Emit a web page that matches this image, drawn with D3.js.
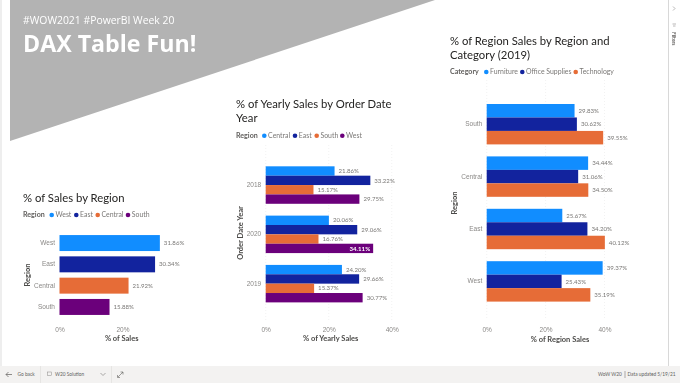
<!DOCTYPE html>
<html>
<head>
<meta charset="utf-8">
<script src="https://cdn.jsdelivr.net/npm/d3@7"></script>
<style>
  html, body { margin: 0; padding: 0; background: #fff; overflow: hidden; }
  svg { display: block; font-family: Lato, "Open Sans", sans-serif; filter: blur(0.3px); }
  .title { fill: #252423; font-size: 11.3px; }
  .legend-title { fill: #605e5c; font-size: 7.1px; font-weight: 700; }
  .legend-label { fill: #7a7876; font-size: 6.9px; }
  .axis-title { fill: #4b4a48; font-size: 7.5px; font-weight: 700; }
  .tick-label { fill: #8a8886; font-size: 6.5px; }
  .data-label { fill: #7a7876; font-size: 6.1px; }
  .chrome-text { fill: #605e5c; font-size: 4.8px; }
</style>
</head>
<body>
<script>
// colours used by all three visuals
const palette = ["#118DFF", "#12239E", "#E66C37", "#6B007B"];

// % of Sales by Region
const salesRegions = ["West", "East", "Central", "South"];
const salesValues = [31.86, 30.34, 21.92, 15.88];

// % of Yearly Sales by Order Date Year
const years = ["2018", "2020", "2019"];
const yearRegions = ["Central", "East", "South", "West"];
const yearValues = [
  [21.86, 33.22, 15.17, 29.75],
  [20.06, 29.06, 16.76, 34.11],
  [24.20, 29.66, 15.37, 30.77]
];

// % of Region Sales by Region and Category (2019)
const catRegions = ["South", "Central", "East", "West"];
const categories = ["Furniture", "Office Supplies", "Technology"];
const catValues = [
  [29.83, 30.62, 39.55],
  [34.44, 31.06, 34.50],
  [25.67, 34.20, 40.12],
  [39.37, 25.43, 35.19]
];

const xTicks = [0, 20, 40];

const width = 680, height = 383;
const svg = d3.select("body").append("svg")
  .attr("width", width)
  .attr("height", height);

// page background and banner
svg.append("rect").attr("width", 2).attr("height", 366).attr("fill", "#eeeeee");
svg.append("path")
  .attr("d", d3.line()([[10, 0], [435, 0], [10, 141]]))
  .attr("fill", "#b3b3b3");
svg.append("text").attr("x", 23).attr("y", 23.5)
  .attr("fill", "#fff").style("font-size", "10.4px").style("font-family", "Open Sans")
  .text("#WOW2021 #PowerBI Week 20");
svg.append("text").attr("x", 23).attr("y", 52)
  .attr("fill", "#fff").style("font-size", "23.2px").style("font-weight", 700).style("font-family", "Open Sans")
  .text("DAX Table Fun!");

function legend(title, names, y, titleX, dotXs) {
  const g = svg.append("g");
  g.append("text").attr("class", "legend-title").attr("x", titleX).attr("y", y + 2.4).text(title);
  names.forEach((n, i) => {
    g.append("circle").attr("cx", dotXs[i]).attr("cy", y).attr("r", 2.3).attr("fill", palette[i]);
    g.append("text").attr("class", "legend-label").attr("x", dotXs[i] + 3.8).attr("y", y + 2.4).text(n);
  });
}

function titleLines(lines, x, y) {
  lines.forEach((t, i) => {
    svg.append("text").attr("class", "title").attr("x", x).attr("y", y + i * 14.4).text(t);
  });
}

// one clustered bar visual; rows is [group index, series index, value]
function barChart(o) {
  const x = d3.scaleLinear().domain([0, 40]).range([o.x0, o.x40]);
  const y = d3.scaleBand().domain(o.groups).range(o.yRange)
    .paddingInner(o.padding).paddingOuter(o.padding / 2);
  const inner = d3.scaleBand().domain(d3.range(o.seriesCount)).range([0, y.bandwidth()]);
  const g = svg.append("g");

  g.append("g").selectAll("line")
    .data(o.grid ? xTicks : [])
    .join("line")
    .attr("x1", d => x(d)).attr("x2", d => x(d))
    .attr("y1", o.gridTop).attr("y2", o.gridBottom)
    .attr("stroke", "#ececec").attr("stroke-width", 0.7)
    .attr("stroke-dasharray", "1,2");

  const xAxis = g.append("g")
    .attr("transform", `translate(0,${o.tickY})`)
    .call(d3.axisBottom(x).tickValues(o.ticks).tickSize(0).tickFormat(d => d + "%"));
  xAxis.select(".domain").remove();
  xAxis.selectAll("text").attr("class", "tick-label").attr("dy", "0.35em").attr("y", 0)
    .style("font-family", "inherit");

  const yAxis = g.append("g")
    .attr("transform", `translate(${o.x0 - 4.5},0)`)
    .call(d3.axisLeft(y).tickSize(0).tickPadding(0));
  yAxis.select(".domain").remove();
  yAxis.selectAll("text").attr("class", "tick-label").style("font-family", "inherit");

  g.selectAll("rect")
    .data(o.rows)
    .join("rect")
    .attr("x", x(0))
    .attr("y", d => y(o.groups[d[0]]) + inner(d[1]))
    .attr("width", d => x(d[2]) - x(0))
    .attr("height", inner.bandwidth())
    .attr("fill", d => palette[d[3] === undefined ? d[1] : d[3]]);

  g.selectAll("text.data-label")
    .data(o.rows)
    .join("text")
    .attr("class", "data-label")
    .attr("x", d => d[2] === o.insideValue ? x(d[2]) - 3 : x(d[2]) + 4)
    .attr("y", d => y(o.groups[d[0]]) + inner(d[1]) + inner.bandwidth() / 2)
    .attr("dy", "0.35em")
    .attr("text-anchor", d => d[2] === o.insideValue ? "end" : "start")
    .style("fill", d => d[2] === o.insideValue ? "#fff" : null)
    .style("font-weight", d => d[2] === o.insideValue ? 700 : null)
    .text(d => d[2].toFixed(2) + "%");

  g.append("text").attr("class", "axis-title")
    .attr("x", o.xTitleX).attr("y", o.xTitleY).attr("dy", "0.35em")
    .attr("text-anchor", "middle").text(o.xTitle);
  g.append("text").attr("class", "axis-title")
    .attr("transform", `translate(${o.yTitleX},${o.yTitleY}) rotate(-90)`)
    .attr("dy", "0.35em")
    .attr("text-anchor", "middle").text(o.yTitle);
}

titleLines(["% of Sales by Region"], 23, 202);
legend("Region", salesRegions, 215, 23, [51.7, 76.3, 97.7, 128]);
barChart({
  groups: salesRegions,
  seriesCount: 1,
  rows: salesValues.map((v, i) => [i, 0, v, i]),
  x0: 59.5, x40: 185.5, ticks: [0, 20],
  yRange: [232.4, 317.6], padding: 0.25,
  grid: false, tickY: 329.5,
  xTitle: "% of Sales", xTitleX: 121.7, xTitleY: 338.7,
  yTitle: "Region", yTitleX: 27.3, yTitleY: 275
});

titleLines(["% of Yearly Sales by Order Date", "Year"], 236, 108);
legend("Region", yearRegions, 135.7, 236, [264.3, 295, 316.7, 342.3]);
barChart({
  groups: years,
  seriesCount: 4,
  rows: yearValues.flatMap((r, i) => r.map((v, j) => [i, j, v])),
  x0: 265.7, x40: 391.7, ticks: xTicks,
  yRange: [160.4, 308.3], padding: 0.24, insideValue: 34.11,
  grid: true, gridTop: 145, gridBottom: 320, tickY: 329.3,
  xTitle: "% of Yearly Sales", xTitleX: 330.7, xTitleY: 338.7,
  yTitle: "Order Date Year", yTitleX: 240, yTitleY: 233
});

titleLines(["% of Region Sales by Region and", "Category (2019)"], 450, 44.5);
legend("Category", categories, 72, 450, [486.3, 522.3, 575.7]);
barChart({
  groups: catRegions,
  seriesCount: 3,
  rows: catValues.flatMap((r, i) => r.map((v, j) => [i, j, v])),
  x0: 486.7, x40: 604.5, ticks: xTicks,
  yRange: [98, 307.6], padding: 0.229,
  grid: true, gridTop: 80, gridBottom: 320, tickY: 330,
  xTitle: "% of Region Sales", xTitleX: 560, xTitleY: 339,
  yTitle: "Region", yTitleX: 454, yTitleY: 203
});

// filters pane on the right
svg.append("line").attr("x1", 668.5).attr("x2", 668.5).attr("y1", 0).attr("y2", 366)
  .attr("stroke", "#d8d8d8");
svg.append("path").attr("d", "M673,6.5L675,8.5L673,10.5M672.5,24H676M673,26H675.5")
  .attr("fill", "none").attr("stroke", "#8a8886").attr("stroke-width", 0.6);
svg.append("text").attr("class", "chrome-text")
  .attr("transform", "translate(672,32) rotate(90)")
  .style("font-weight", 700).text("Filters");

// bottom status bar
svg.append("rect").attr("x", 0).attr("y", 366).attr("width", width).attr("height", 17).attr("fill", "#f3f2f1");
[40, 111].forEach(x => svg.append("line").attr("x1", x + 0.5).attr("x2", x + 0.5)
  .attr("y1", 366).attr("y2", 383).attr("stroke", "#e6e5e3"));
svg.append("path").attr("d", "M6,374.5H12M6,374.5L8.5,372M6,374.5L8.5,377")
  .attr("fill", "none").attr("stroke", "#605e5c").attr("stroke-width", 0.7);
svg.append("path").attr("d", "M100.5,373L103,375.5L105.5,373")
  .attr("fill", "none").attr("stroke", "#8a8886").attr("stroke-width", 0.7);
svg.append("path").attr("d", "M118,377L123,372M120.5,372H123V374.5M117.5,375V377.5H120")
  .attr("fill", "none").attr("stroke", "#605e5c").attr("stroke-width", 0.6);
svg.append("text").attr("class", "chrome-text").attr("x", 17.5).attr("y", 376).text("Go back");
svg.append("rect").attr("x", 47.5).attr("y", 372).attr("width", 4).attr("height", 3.5).attr("fill", "none").attr("stroke", "#8a8886").attr("stroke-width", 0.5);
svg.append("text").attr("class", "chrome-text").attr("x", 55).attr("y", 376).text("W20 Solution");
svg.append("text").attr("class", "chrome-text").attr("x", 598).attr("y", 376).text("WoW W20");
svg.append("text").attr("class", "chrome-text").attr("x", 627.5).attr("y", 376).text("Data updated 5/19/21");
svg.append("line").attr("x1", 625).attr("x2", 625).attr("y1", 371).attr("y2", 378).attr("stroke", "#605e5c").attr("stroke-width", 0.5);
</script>
</body>
</html>
